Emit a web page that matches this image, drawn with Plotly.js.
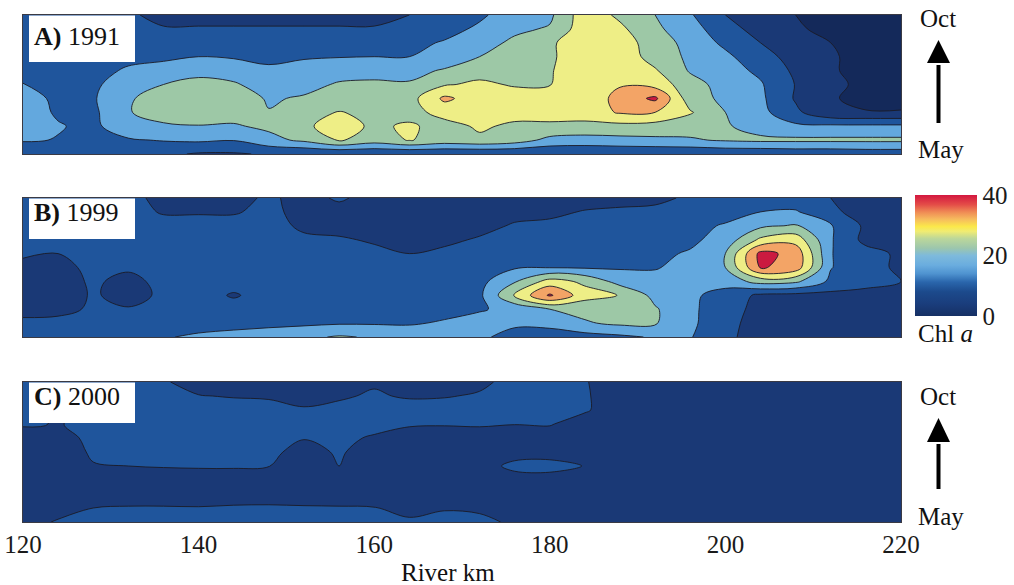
<!DOCTYPE html>
<html><head><meta charset="utf-8">
<script src="https://cdn.plot.ly/plotly-3.0.1.min.js"></script>
<style>html,body{margin:0;padding:0;background:#fff}#chart{width:1014px;height:585px}</style>
</head><body><div id="chart"></div>
<script>
// ---------- data ----------
const riverKm = [120,124,128,132,136,140,144,148,152,156,160,164,168,172,176,180,184,188,192,196,200,204,208,212,216,220];
const surveyStep = [0,1,2,3,4,5,6,7,8,9,10]; // 0 = May ... 10 = Oct
const kmTicks = [120,140,160,180,200,220];
const chlTicks = [0,20,40];
const panelNames = ['A)','B)','C)'];
const panelYears = ['1991','1999','2000'];

const chl1991 = [
 [11,11,11.5,11.5,11,9.5,9.5,10.5,10.3,10.3,10.3,10.3,10.3,10.3,10.3,10.3,10.3,10.5,10.5,10.5,11,11,11.5,11.5,12,12],
 [15.5,14.8,14.5,14.5,15.3,15.8,15.2,18.5,21,25.5,22.5,25.3,23,24,22.5,18.5,18,18.5,19,19.5,20.5,21,21,21,21,21],
 [16.5,15.3,14,18,19.5,19.8,19.5,21,24,27.5,24,25.8,23,25.8,24,24.3,23.5,23.5,23,22,20.5,18,16,16,16,16],
 [17,14.5,14,19.8,21.5,22.5,22,20.2,23.5,25.2,24,23,27,27.5,27,26.5,27.5,30.5,30,25.5,20,16.5,11,6,5.3,5.3],
 [17,14,14.5,19.5,22,23,22.5,19.5,20.5,22,22.5,23,31,27.5,27.5,27,26,32,36,22,19,16,9.5,5.5,3.5,3.5],
 [15.2,12,14,18,20,21.5,20.5,18,18.5,20.5,21,20.5,24.5,26,24.5,24.8,29,29.5,28,22,18,15.5,9.8,6,4,3.5],
 [13,12,12.5,16,17,18.5,18,16.5,17,18,18,18.5,20.5,23,24,24.5,29,29,25.5,19.5,17,14,9,5.5,3.5,3],
 [12,12,12,13,14,15,14.5,13,14.5,14.8,15,15,17,20,23,24,29,28,23,19,16,12,8,5.5,3.5,3],
 [12,12,12,12,12,12,13,12,12,13,13,13.5,15.5,18,21,24,29,27,23,18,14,10,6,5,3.5,3],
 [12,12,12,12,10.5,10.5,10.5,10.5,10.5,10.5,10.5,11,13,16,19,20.5,28,26,21,17,12,8,5.5,4,3,3],
 [12,12,12,11,8,8,8,8,8,8,8,10,12,14,18,19,28,24,20,15.5,10,7,5,3,2.5,2.5]
];

const chl1999 = [
 [11,12,13,14,14.5,16,17,18,19,20.5,19.5,18,17.5,16,13,12.5,13,14,15.5,15.3,11,8,8,8,8,8],
 [11,11,11.5,12,12,12.5,13,13.5,14,14.5,14.5,14.5,15.5,17,16,16.5,19.5,21,20.5,16,11.5,8,8,8,8,8],
 [8.5,9,10.5,10.2,11.5,12,12,12,12,12,12.5,13,13.5,14.5,16.5,20,21.5,22.5,20.5,16,12,8.5,8,8,8,8],
 [8,8.5,10.3,9,10.5,12,9.5,12,12,12,12,12.5,13,14,25.3,35.8,27,24.8,18.5,16,13,9,8.5,8.5,8.5,8.5],
 [8,8.5,10.5,9,11,12,12,12,12,12,12,12,12.5,13.5,19.5,27,24,18,16,16,17,22,21,14,11.5,10],
 [9,9,10.8,10.5,12,12,12,12,12,12,12,12,12,13,14.5,14.8,14.5,14.5,14.8,16,20,35.5,33,15.2,12,9],
 [10.5,10,11,12,12,12,12,12,12,12,11,10,11,12,12.5,13,13.5,13.5,14,15.5,20,36.5,33.5,15.2,12,9],
 [12,12,12,12,12,12,12,12,11,10.5,9.5,9,9,10.5,11.5,12,12,12.5,13,14,17,26,28,15.5,8.5,8],
 [12,12,12,12,12,12,12,12,9,8.5,8.5,8,8,8.5,10.5,11,11.5,12,12.5,13.5,15.5,19,20.5,15.5,9,8],
 [12,12,12,12,9.5,9.5,9.5,11.5,8,8,8,8,8,8,8.5,9,10.3,11,11.5,12,13,15,15.5,11,8,8],
 [12,12,12,12,8,8,8,11,8,10.8,8,8,8,8,8,8,8,8,8.5,11,12,12.5,12,10,8,8]
];

const chl2000 = [
 [8,10.5,12,12,12,12,12,12,12,12,12,11,12,11.5,9,7.5,7.5,7.5,7.5,7.5,7.5,7.5,7.5,7.5,7.5,7.5],
 [7.5,8,10,10.3,10.3,10.2,10.5,10.6,10.4,10.3,10.2,8,9.5,9,7.5,7.5,7.5,7.5,7.5,7.5,7.5,7.5,7.5,7.5,7.5,7.5],
 [7.5,7.5,8,8,8,8,8,8,8,8,8,8,8,8,7.5,7.5,7.5,7.5,7.5,7.5,7.5,7.5,7.5,7.5,7.5,7.5],
 [7.5,7.5,7.8,7.8,7.6,7.5,7.6,7.5,7.5,7.6,7.5,7.5,7.5,7.5,7.5,7.5,7.5,7.5,7.5,7.5,7.5,7.5,7.5,7.5,7.5,7.5],
 [7.5,7.5,9.8,10,10.3,10.5,10.5,10.1,8,10,8,7.5,7.5,7.5,11.5,12,9.8,7.5,7.5,7.5,7.5,7.5,7.5,7.5,7.5,7.5],
 [7.5,8,10.5,11.5,12,12,11.5,11,8.5,10.5,8,7.5,7.5,7.5,7.5,7.5,7.5,7.5,7.5,7.5,7.5,7.5,7.5,7.5,7.5,7.5],
 [8,8.5,11,12,12,12,12,12,10.2,11,9.5,8,8,8,8,8,7.5,7.5,7.5,7.5,7.5,7.5,7.5,7.5,7.5,7.5],
 [10.5,9.8,11,12,12,12,12,12,12,12,11.5,10.5,10.3,10.5,10.1,10.3,8,7.5,7.5,7.5,7.5,7.5,7.5,7.5,7.5,7.5],
 [11.5,9,10.5,12,12,12,12,11.5,10.3,11,12,12,12,12,12,12,10.5,7.5,7.5,7.5,7.5,7.5,7.5,7.5,7.5,7.5],
 [11.5,9,10,11,11,10.2,9.7,9.5,9,9.5,10.5,9.5,9.7,10.5,11.5,12,10.5,7.5,7.5,7.5,7.5,7.5,7.5,7.5,7.5,7.5],
 [12,12,12,12,10.5,8,8,8,8,8,9.5,8,8,9,11.5,11.5,10.3,7.5,7.5,7.5,7.5,7.5,7.5,7.5,7.5,7.5]
];

// ---------- styling ----------
const W = 1014, H = 585;
const fx = p => p / W;
const fy = p => 1 - p / H;
const SERIF = 'Liberation Serif, Times New Roman, serif';

const bandColors = ['#14295a','#1a3976','#1f559c','#63a8de','#9dc8a6','#eeee86','#f3a466','#cb1a40'];
const bandScale = [];
bandColors.forEach((c, k) => {
  bandScale.push([k === 0 ? 0 : k / 8 + 0.001, c]);
  bandScale.push([k === 7 ? 1 : (k + 1) / 8 - 0.001, c]);
});
const barScale = [
 [0,'#163064'],[0.1,'#1a3d7c'],[0.2,'#1c4a8c'],[0.28,'#2a66ac'],[0.35,'#4f93d0'],
 [0.42,'#6aaddf'],[0.5,'#7ebadb'],[0.56,'#9cc6ad'],[0.64,'#bcd79a'],[0.7,'#f1ec72'],
 [0.74,'#fbe84a'],[0.8,'#f6bb5e'],[0.86,'#ef8a55'],[0.92,'#e44d48'],[1,'#d3173f']
];

const panels = [
  {top: 15, bottom: 154, z: chl1991},
  {top: 198, bottom: 337, z: chl1999},
  {top: 382, bottom: 522, z: chl2000}
];

const traces = panels.map((p, i) => ({
  type: 'contour',
  x: riverKm, y: surveyStep, z: p.z,
  xaxis: i === 0 ? 'x' : 'x' + (i + 1),
  yaxis: i === 0 ? 'y' : 'y' + (i + 1),
  autocontour: false,
  contours: {start: 0, end: 40, size: 5, coloring: 'fill', showlines: true},
  zmin: 0, zmax: 40,
  colorscale: bandScale,
  showscale: false,
  line: {color: '#1b1b26', width: 0.9, smoothing: 1},
  hoverinfo: 'skip'
}));

// colour bar (continuous gradient)
traces.push({
  type: 'heatmap', z: chl1999, x: riverKm, y: surveyStep,
  xaxis: 'x4', yaxis: 'y4', zmin: 0, zmax: 40, colorscale: barScale,
  opacity: 0, hoverinfo: 'skip', showscale: true,
  colorbar: {
    x: fx(915), xanchor: 'left', y: fy(195), yanchor: 'top',
    len: 121, lenmode: 'pixels', thickness: 62, thicknessmode: 'pixels',
    outlinewidth: 0, xpad: 0, ypad: 0, ticks: '', ticklen: 0,
    tickvals: chlTicks, tickfont: {family: SERIF, size: 25, color: '#1a1a1a'}
  }
});

const layout = {
  width: W, height: H,
  margin: {l: 0, r: 0, t: 0, b: 0},
  paper_bgcolor: '#fff', plot_bgcolor: '#fff',
  showlegend: false,
  shapes: [], annotations: []
};

panels.forEach((p, i) => {
  const sx = i === 0 ? '' : String(i + 1);
  layout['xaxis' + sx] = {
    domain: [fx(23), fx(901)], range: [120, 220], anchor: 'y' + sx,
    showgrid: false, zeroline: false, showline: true, mirror: true,
    linecolor: '#3a3a44', linewidth: 1, ticks: '', fixedrange: true,
    showticklabels: i === 2, tickvals: kmTicks,
    tickfont: {family: SERIF, size: 25, color: '#1a1a1a'}
  };
  layout['yaxis' + sx] = {
    domain: [fy(p.bottom), fy(p.top)], range: [0, 10], anchor: 'x' + sx,
    showgrid: false, zeroline: false, showline: true, mirror: true,
    linecolor: '#3a3a44', linewidth: 1, ticks: '', showticklabels: false, fixedrange: true
  };
  // label box
  layout.shapes.push({type: 'rect', xref: 'paper', yref: 'paper',
    x0: fx(29), x1: fx(135), y0: fy(p.top + (i === 0 ? 47 : 41)), y1: fy(p.top + 0.5),
    fillcolor: '#ffffff', line: {width: 0}, layer: 'above'});
  layout.annotations.push({xref: 'paper', yref: 'paper', x: fx(32), y: fy(p.top + (i === 0 ? 21 : 14)),
    xanchor: 'left', yanchor: 'middle', showarrow: false,
    text: '<b>' + panelNames[i] + '</b> ' + panelYears[i],
    font: {family: SERIF, size: 26, color: '#111'}});
});
layout.xaxis4 = {domain: [0.995, 1], visible: false, anchor: 'y4'};
layout.yaxis4 = {domain: [0, 0.005], visible: false, anchor: 'x4'};

// time arrows (May -> Oct)
function arrow(tipY, baseY, endY) {
  const cx = 938.5;
  layout.shapes.push({type: 'line', xref: 'paper', yref: 'paper',
    x0: fx(cx), x1: fx(cx), y0: fy(endY), y1: fy(baseY + 2), line: {color: '#000', width: 4}});
  layout.shapes.push({type: 'path', xref: 'paper', yref: 'paper',
    path: 'M' + fx(cx - 11.5) + ',' + fy(baseY) + ' L' + fx(cx + 11.5) + ',' + fy(baseY) +
          ' L' + fx(cx) + ',' + fy(tipY) + ' Z',
    fillcolor: '#000', line: {width: 0}});
}
arrow(40, 63, 123);
arrow(418, 442, 489);

const sideText = [['Oct', 18], ['May', 149], ['Oct', 396], ['May', 516]];
sideText.forEach(([t, y]) => layout.annotations.push({xref: 'paper', yref: 'paper',
  x: fx(t === 'Oct' ? 938 : 941), y: fy(y), xanchor: 'center', yanchor: 'middle', showarrow: false,
  text: t, font: {family: SERIF, size: 25, color: '#111'}}));

layout.annotations.push({xref: 'paper', yref: 'paper', x: fx(448), y: fy(572),
  xanchor: 'center', yanchor: 'middle', showarrow: false, text: 'River km',
  font: {family: SERIF, size: 25, color: '#111'}});
layout.annotations.push({xref: 'paper', yref: 'paper', x: fx(945), y: fy(333),
  xanchor: 'center', yanchor: 'middle', showarrow: false, text: 'Chl <i>a</i>',
  font: {family: SERIF, size: 25, color: '#111'}});

Plotly.newPlot('chart', traces, layout, {staticPlot: true, displayModeBar: false});
</script>
</body></html>
